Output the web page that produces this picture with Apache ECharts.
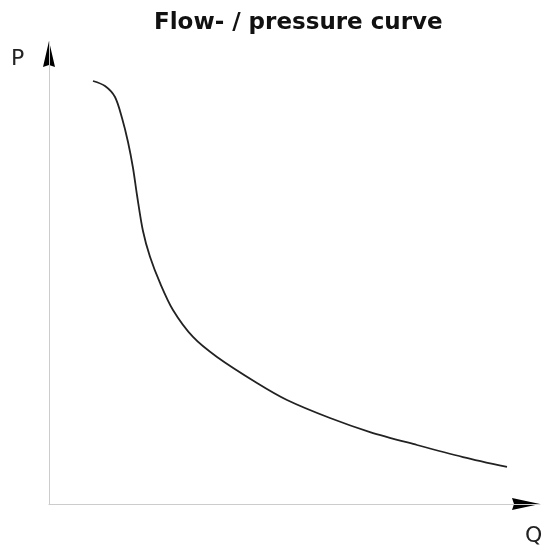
<!DOCTYPE html>
<html>
<head>
<meta charset="utf-8">
<script src="https://cdn.jsdelivr.net/npm/echarts@6/dist/echarts.min.js"></script>
<style>
  html, body { margin: 0; padding: 0; background: #fff; }
  #chart { width: 542px; height: 547px; }
</style>
</head>
<body>
<div id="chart"></div>
<script>
// flow (Q) / pressure (P) curve, arbitrary units 0..100
var flowQ = [8.96, 11.41, 13.44, 14.87, 16.09, 17.11, 17.92, 19.14, 20.57,
             22.61, 25.25, 29.33, 34.22, 42.36, 48.47, 57.23, 65.38, 74.95, 84.32, 93.28];
var pressureP = [91.56, 90.48, 88.1, 83.55, 78.35, 72.73, 66.88, 59.09, 53.5,
                 47.84, 41.99, 36.15, 31.82, 26.19, 22.51, 18.61, 15.58, 12.77, 10.17, 8.01];

var curve = flowQ.map(function (q, i) { return [q, pressureP[i]]; });

var chart = echarts.init(document.getElementById('chart'));

chart.setOption({
  animation: false,
  title: {
    text: 'Flow- / pressure curve',
    left: 149,
    top: 7,
    textStyle: { fontFamily: 'DejaVu Sans', fontWeight: 'bold', fontSize: 23, color: '#111' }
  },
  grid: { left: 49, right: 2, top: 42, bottom: 43 },
  xAxis: {
    type: 'value', min: 0, max: 100,
    axisLine: { lineStyle: { color: '#cccccc', width: 1 } },
    axisTick: { show: false }, axisLabel: { show: false }, splitLine: { show: false }
  },
  yAxis: {
    type: 'value', min: 0, max: 100,
    axisLine: { show: true, lineStyle: { color: '#cccccc', width: 1 } },
    axisTick: { show: false }, axisLabel: { show: false }, splitLine: { show: false }
  },
  graphic: [
    // axis arrow heads
    { type: 'polygon', shape: { points: [[49, 41], [55, 67], [49, 65], [43, 67]] }, style: { fill: '#000' } },
    { type: 'polygon', shape: { points: [[540, 504], [512, 510], [514, 504], [512, 498]] }, style: { fill: '#000' } },
    { type: 'text', left: 11, top: 48, style: { text: 'P', fontFamily: 'DejaVu Sans', fontSize: 22, fill: '#222' } },
    { type: 'text', left: 525, top: 525, style: { text: 'Q', fontFamily: 'DejaVu Sans', fontSize: 22, fill: '#222' } }
  ],
  series: [{
    type: 'line',
    data: curve,
    smooth: 0.3,
    symbol: 'none',
    lineStyle: { color: '#222', width: 1.8 }
  }]
});
</script>
</body>
</html>
